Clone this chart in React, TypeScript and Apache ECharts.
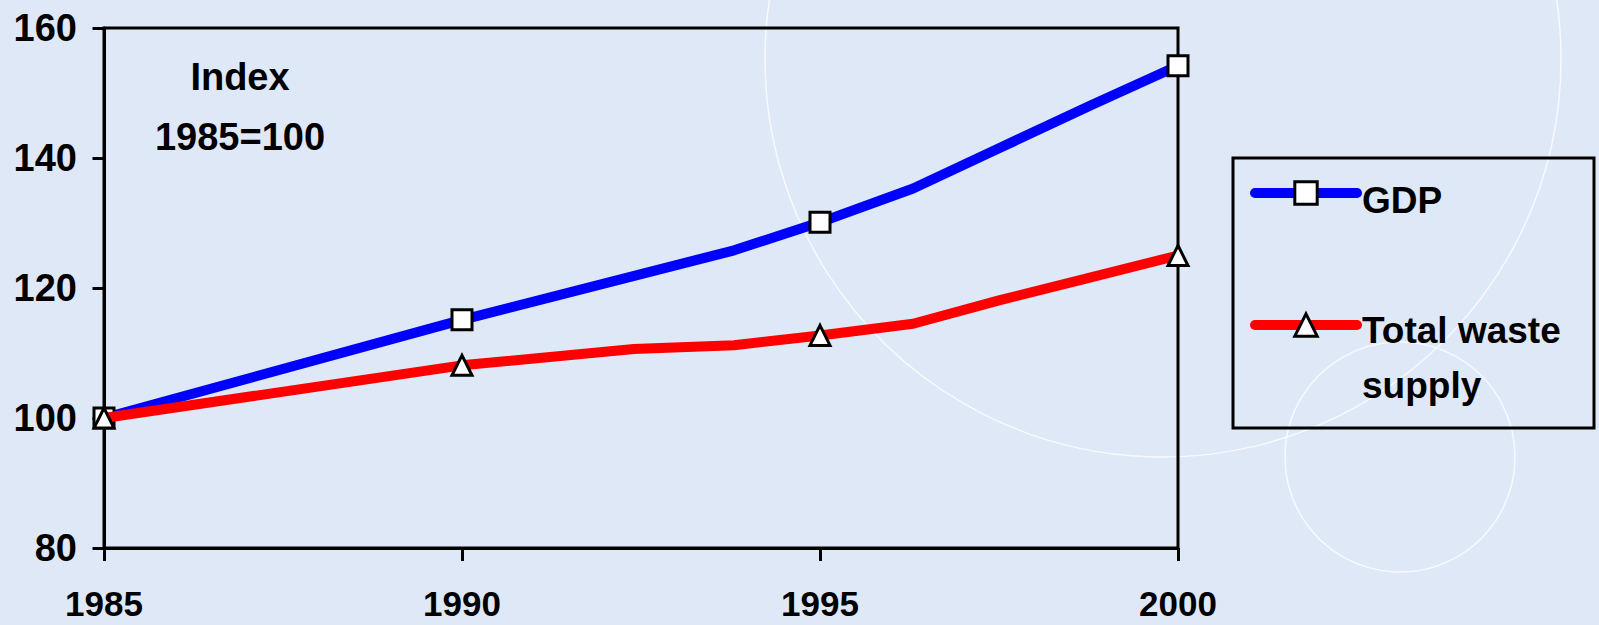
import React, { useEffect, useRef } from "react";
import * as echarts from "echarts";

// ---- data ----
const xTicks = [1985, 1990, 1995, 2000];
const yTicks = [80, 100, 120, 140, 160];
const markerYears = [1985, 1990, 1995, 2000];

const gdpName = "GDP";
const gdpYears = [1985, 1990, 1993.8, 1995, 1996.3, 1997.5, 1998.8, 2000];
const gdpValues = [100, 115.1, 125.8, 130.1, 135.3, 141.5, 148.2, 154.2];

const wasteName = "Total waste supply";
const wasteYears = [1985, 1990, 1992.4, 1993.8, 1995, 1996.3, 1997.5, 1998.7, 2000];
const wasteValues = [100, 108.1, 110.6, 111.2, 112.7, 114.5, 118.1, 121.4, 125];

const FONT = "'Liberation Sans', Arial, sans-serif";

function buildData(years: number[], values: number[]) {
  return years.map((y, i) =>
    markerYears.includes(y)
      ? { value: [y, values[i]] }
      : { value: [y, values[i]], symbol: "none" }
  );
}

export default function App() {
  const ref = useRef<HTMLDivElement>(null);

  useEffect(() => {
    if (!ref.current) return;
    const chart = echarts.init(ref.current, null, { renderer: "svg" });

    const legendCommon = {
      orient: "vertical",
      left: 1250,
      padding: 0,
      itemWidth: 102,
      itemHeight: 28,
      lineStyle: { width: 10, cap: "round" },
      itemStyle: { color: "#fff", borderColor: "#000", borderWidth: 3 },
    };
    const legendText = {
      fontSize: 37,
      fontWeight: "bold",
      color: "#000",
      fontFamily: FONT,
    };

    chart.setOption({
      animation: false,
      backgroundColor: "#dfe8f7",
      textStyle: { fontFamily: FONT },
      grid: {
        left: 104,
        top: 28,
        width: 1074,
        height: 520,
        show: true,
        borderColor: "#000",
        borderWidth: 3,
        backgroundColor: "transparent",
      },
      xAxis: {
        type: "value",
        min: xTicks[0],
        max: xTicks[xTicks.length - 1],
        interval: 5,
        axisLine: { lineStyle: { color: "#000", width: 3 } },
        axisTick: { length: 13, lineStyle: { color: "#000", width: 3 } },
        splitLine: { show: false },
        axisLabel: {
          margin: 40,
          fontSize: 35,
          lineHeight: 30,
          fontWeight: "bold",
          color: "#000",
          fontFamily: FONT,
          formatter: (v: number) => String(v),
        },
      },
      yAxis: {
        type: "value",
        min: yTicks[0],
        max: yTicks[yTicks.length - 1],
        interval: 20,
        axisLine: { show: true, lineStyle: { color: "#000", width: 3 } },
        axisTick: { show: true, length: 11.5, lineStyle: { color: "#000", width: 3 } },
        splitLine: { show: false },
        axisLabel: {
          margin: 27,
          fontSize: 38,
          fontWeight: "bold",
          color: "#000",
          fontFamily: FONT,
        },
      },
      legend: [
        {
          ...legendCommon,
          top: 170,
          data: [gdpName],
          formatter: () => "{s| }\n{a|GDP}",
          textStyle: {
            ...legendText,
            rich: {
              s: { fontSize: 6, lineHeight: 14 },
              a: { ...legendText, lineHeight: 40 },
            },
          },
        },
        {
          ...legendCommon,
          top: 267,
          data: [wasteName],
          formatter: () => "{s| }\n{a|Total waste}\n{a|supply}",
          textStyle: {
            ...legendText,
            rich: {
              s: { fontSize: 6, lineHeight: 66 },
              a: { ...legendText, lineHeight: 55 },
            },
          },
        },
      ],
      graphic: [
        {
          type: "circle",
          z: -10,
          silent: true,
          shape: { cx: 1163, cy: 59, r: 398 },
          style: { fill: "none", stroke: "rgba(255,255,255,0.75)", lineWidth: 1.5 },
        },
        {
          type: "circle",
          z: -10,
          silent: true,
          shape: { cx: 1400, cy: 457, r: 115 },
          style: { fill: "none", stroke: "rgba(255,255,255,0.75)", lineWidth: 1.5 },
        },
        {
          type: "rect",
          z: 5,
          silent: true,
          shape: { x: 1233, y: 158, width: 361, height: 270 },
          style: { fill: "none", stroke: "#000", lineWidth: 3 },
        },
        {
          type: "text",
          z: 5,
          silent: true,
          x: 240,
          y: 106.75,
          style: {
            text: "Index\n1985=100",
            align: "center",
            verticalAlign: "middle",
            fontSize: 38,
            lineHeight: 59.5,
            fontWeight: "bold",
            fontFamily: FONT,
            fill: "#000",
          },
        },
      ],
      series: [
        {
          name: gdpName,
          type: "line",
          clip: false,
          data: buildData(gdpYears, gdpValues),
          symbol: "rect",
          symbolSize: 20,
          lineStyle: { color: "#0000ff", width: 10 },
          itemStyle: { color: "#fff", borderColor: "#000", borderWidth: 3 },
          z: 3,
        },
        {
          name: wasteName,
          type: "line",
          clip: false,
          data: buildData(wasteYears, wasteValues),
          symbol: "triangle",
          symbolSize: 20,
          lineStyle: { color: "#ff0000", width: 10 },
          itemStyle: { color: "#fff", borderColor: "#000", borderWidth: 3 },
          z: 4,
        },
      ],
    });

    return () => chart.dispose();
  }, []);

  return (
    <div
      ref={ref}
      style={{ position: "fixed", left: 0, top: 0, width: 1599, height: 625 }}
    />
  );
}
